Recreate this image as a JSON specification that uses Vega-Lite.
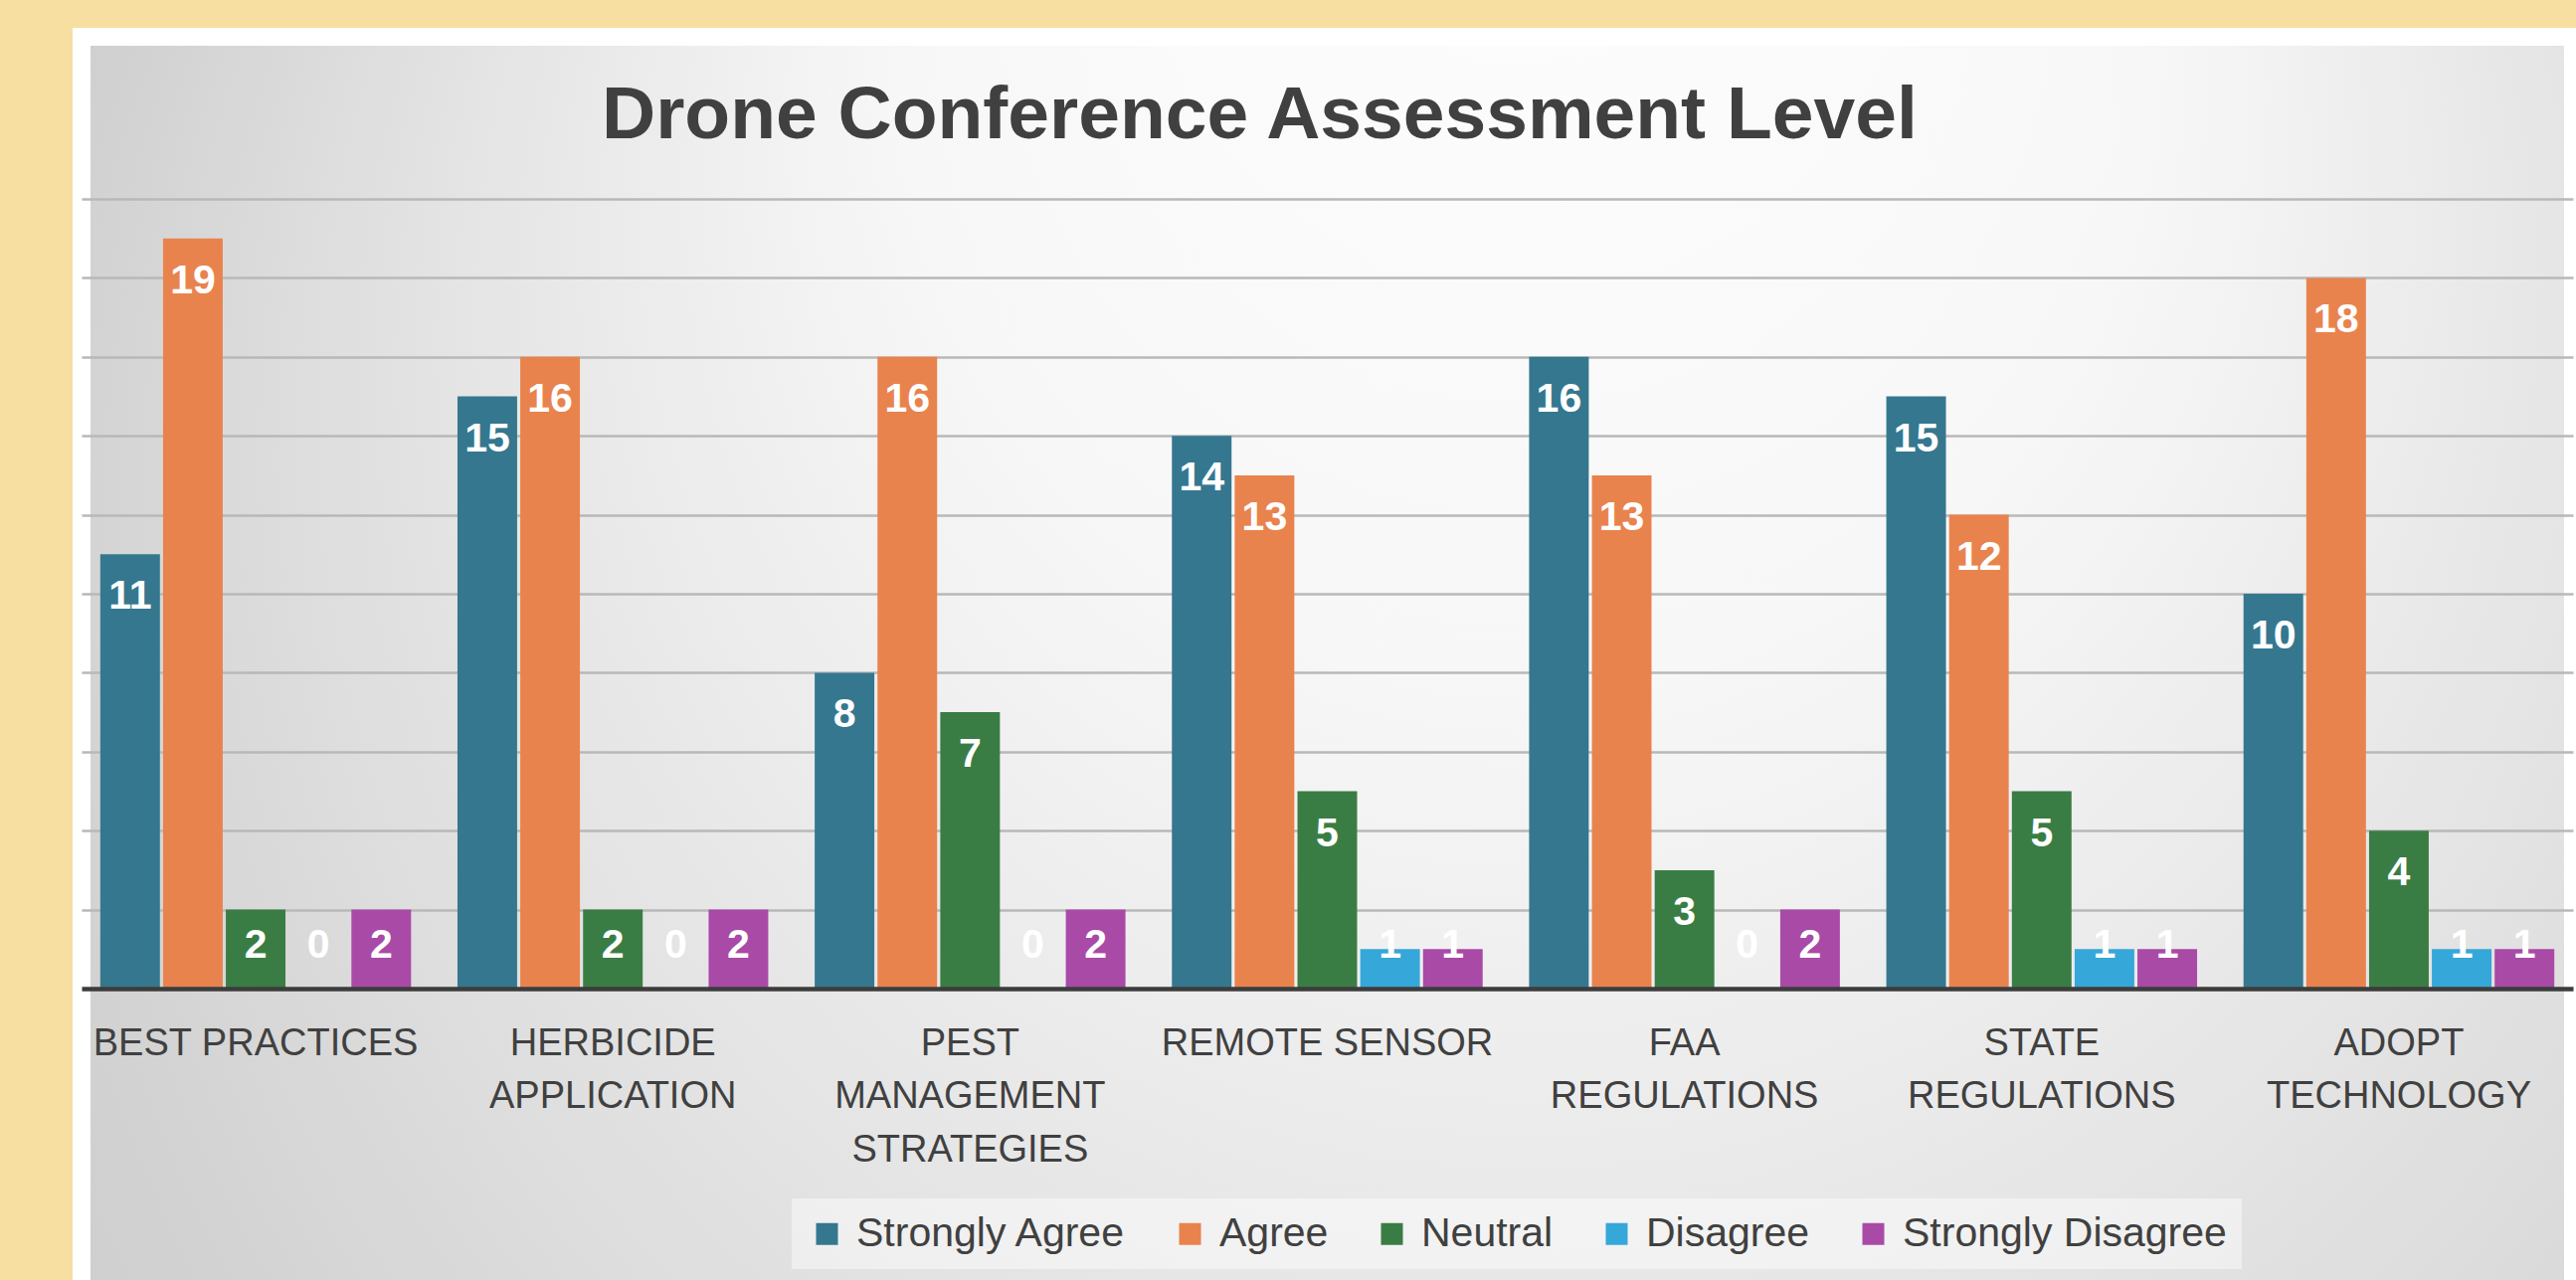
{
  "$schema": "https://vega.github.io/schema/vega-lite/v6.json",
  "width": 2505,
  "height": 1250,
  "autosize": {"type": "none"},
  "padding": {"left": 82, "top": 37, "right": 3, "bottom": 0},
  "background": "#F6DFA1",
  "title": {
    "text": "Drone Conference Assessment Level",
    "anchor": "start",
    "frame": "group",
    "orient": "top",
    "offset": -177,
    "baseline": "alphabetic",
    "dx": 523,
    "font": "Liberation Sans",
    "fontSize": 75,
    "fontWeight": "bold",
    "color": "#404040"
  },
  "data": {
    "values": [
      {"topic": "BEST PRACTICES", "response": "Strongly Agree", "count": 11},
      {"topic": "BEST PRACTICES", "response": "Agree", "count": 19},
      {"topic": "BEST PRACTICES", "response": "Neutral", "count": 2},
      {"topic": "BEST PRACTICES", "response": "Disagree", "count": 0},
      {"topic": "BEST PRACTICES", "response": "Strongly Disagree", "count": 2},
      {"topic": "HERBICIDE APPLICATION", "response": "Strongly Agree", "count": 15},
      {"topic": "HERBICIDE APPLICATION", "response": "Agree", "count": 16},
      {"topic": "HERBICIDE APPLICATION", "response": "Neutral", "count": 2},
      {"topic": "HERBICIDE APPLICATION", "response": "Disagree", "count": 0},
      {"topic": "HERBICIDE APPLICATION", "response": "Strongly Disagree", "count": 2},
      {"topic": "PEST MANAGEMENT STRATEGIES", "response": "Strongly Agree", "count": 8},
      {"topic": "PEST MANAGEMENT STRATEGIES", "response": "Agree", "count": 16},
      {"topic": "PEST MANAGEMENT STRATEGIES", "response": "Neutral", "count": 7},
      {"topic": "PEST MANAGEMENT STRATEGIES", "response": "Disagree", "count": 0},
      {"topic": "PEST MANAGEMENT STRATEGIES", "response": "Strongly Disagree", "count": 2},
      {"topic": "REMOTE SENSOR", "response": "Strongly Agree", "count": 14},
      {"topic": "REMOTE SENSOR", "response": "Agree", "count": 13},
      {"topic": "REMOTE SENSOR", "response": "Neutral", "count": 5},
      {"topic": "REMOTE SENSOR", "response": "Disagree", "count": 1},
      {"topic": "REMOTE SENSOR", "response": "Strongly Disagree", "count": 1},
      {"topic": "FAA REGULATIONS", "response": "Strongly Agree", "count": 16},
      {"topic": "FAA REGULATIONS", "response": "Agree", "count": 13},
      {"topic": "FAA REGULATIONS", "response": "Neutral", "count": 3},
      {"topic": "FAA REGULATIONS", "response": "Disagree", "count": 0},
      {"topic": "FAA REGULATIONS", "response": "Strongly Disagree", "count": 2},
      {"topic": "STATE REGULATIONS", "response": "Strongly Agree", "count": 15},
      {"topic": "STATE REGULATIONS", "response": "Agree", "count": 12},
      {"topic": "STATE REGULATIONS", "response": "Neutral", "count": 5},
      {"topic": "STATE REGULATIONS", "response": "Disagree", "count": 1},
      {"topic": "STATE REGULATIONS", "response": "Strongly Disagree", "count": 1},
      {"topic": "ADOPT TECHNOLOGY", "response": "Strongly Agree", "count": 10},
      {"topic": "ADOPT TECHNOLOGY", "response": "Agree", "count": 18},
      {"topic": "ADOPT TECHNOLOGY", "response": "Neutral", "count": 4},
      {"topic": "ADOPT TECHNOLOGY", "response": "Disagree", "count": 1},
      {"topic": "ADOPT TECHNOLOGY", "response": "Strongly Disagree", "count": 1}
    ]
  },
  "encoding": {
    "x": {
      "field": "topic",
      "type": "nominal",
      "sort": null,
      "scale": {"paddingInner": 0.13, "paddingOuter": 0.0524},
      "axis": {
        "title": null,
        "orient": "bottom",
        "offset": -293,
        "zindex": 1,
        "ticks": false,
        "tickSize": 0,
        "grid": false,
        "labelPadding": 36,
        "labelAngle": 0,
        "labelBaseline": "top",
        "labelFont": "Liberation Sans",
        "labelFontSize": 38,
        "labelColor": "#404040",
        "labelLineHeight": 53.5,
        "labelLimit": 600,
        "labelOverlap": false,
        "labelExpr": "datum.value == 'BEST PRACTICES' || datum.value == 'REMOTE SENSOR' ? datum.value : split(datum.value, ' ')",
        "domain": true,
        "domainColor": "#3C3C3C",
        "domainWidth": 4.5
      }
    },
    "xOffset": {
      "field": "response",
      "type": "nominal",
      "sort": ["Strongly Agree", "Agree", "Neutral", "Disagree", "Strongly Disagree"],
      "scale": {"paddingInner": 0.05, "paddingOuter": 0}
    }
  },
  "layer": [
    {
      "mark": {"type": "bar"},
      "encoding": {
        "y": {
          "field": "count",
          "type": "quantitative",
          "scale": {"domain": [-7.38, 24.106], "nice": false, "zero": false},
          "axis": {
            "title": null,
            "values": [2, 4, 6, 8, 10, 12, 14, 16, 18, 20],
            "grid": true,
            "gridColor": "#B8B8B8",
            "gridWidth": 2.5,
            "labels": false,
            "ticks": false,
            "domain": false
          }
        },
        "y2": {"datum": 0},
        "color": {
          "field": "response",
          "type": "nominal",
          "sort": ["Strongly Agree", "Agree", "Neutral", "Disagree", "Strongly Disagree"],
          "scale": {
            "domain": ["Strongly Agree", "Agree", "Neutral", "Disagree", "Strongly Disagree"],
            "range": ["#35778F", "#E9834E", "#3A7D44", "#36A7D9", "#A94AA7"]
          },
          "legend": {
            "orient": "none",
            "legendX": 714,
            "legendY": 1168,
            "direction": "horizontal",
            "title": null,
            "padding": 15,
            "fillColor": "rgba(255,255,255,0.45)",
            "symbolType": "square",
            "symbolSize": 484,
            "symbolStrokeWidth": 0,
            "labelFont": "Liberation Sans",
            "labelFontSize": 41,
            "labelColor": "#404040",
            "labelOffset": 9,
            "columnPadding": 43,
            "labelLimit": 600
          }
        }
      }
    },
    {
      "transform": [{"filter": "datum.count >= 3"}],
      "mark": {
        "type": "text",
        "dy": 43,
        "baseline": "middle",
        "align": "center",
        "font": "Liberation Sans",
        "fontWeight": "bold",
        "fontSize": 41,
        "color": "#FFFFFF"
      },
      "encoding": {
        "y": {"field": "count", "type": "quantitative"},
        "text": {"field": "count", "type": "quantitative"}
      }
    },
    {
      "transform": [{"filter": "datum.count < 3"}],
      "mark": {
        "type": "text",
        "baseline": "middle",
        "align": "center",
        "font": "Liberation Sans",
        "fontWeight": "bold",
        "fontSize": 41,
        "color": "#FFFFFF"
      },
      "encoding": {
        "y": {"datum": 1.08},
        "text": {"field": "count", "type": "quantitative"}
      }
    }
  ],
  "config": {
    "view": {
      "stroke": "#FFFFFF",
      "strokeWidth": 18,
      "strokeCap": "square",
      "strokeDash": [3755, 2505, 1250],
      "fill": {
        "gradient": "radial",
        "x1": 0.58, "y1": 0.1, "r1": 0,
        "x2": 0.58, "y2": 0.55, "r2": 0.72,
        "stops": [
          {"offset": 0, "color": "#FFFFFF"},
          {"offset": 0.35, "color": "#F7F7F7"},
          {"offset": 0.6, "color": "#E4E4E4"},
          {"offset": 0.8, "color": "#D4D4D4"},
          {"offset": 1, "color": "#C7C7C7"}
        ]
      }
    }
  }
}
